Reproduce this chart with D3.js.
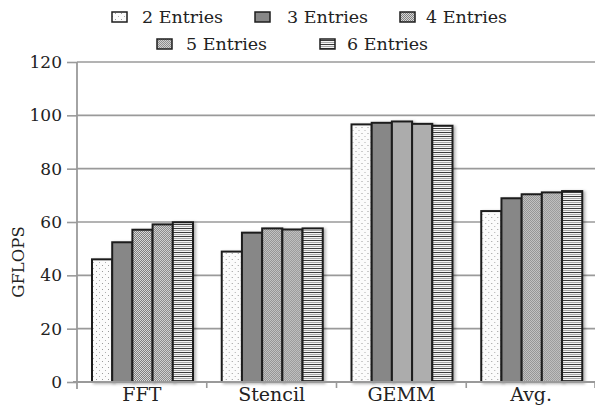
<!DOCTYPE html>
<html>
<head>
<meta charset="utf-8">
<script src="https://cdn.jsdelivr.net/npm/d3@7"></script>
<style>
  html, body { margin: 0; padding: 0; background: #fff; }
  svg { display: block; }
  svg text { font-family: "DejaVu Serif", serif; }
</style>
</head>
<body>
<svg id="chart" width="595" height="405"></svg>
<script>
// ---- data ----
const categories = ["FFT", "Stencil", "GEMM", "Avg."];
const seriesNames = ["2 Entries", "3 Entries", "4 Entries", "5 Entries", "6 Entries"];
const entries2 = [46.0, 48.9, 96.6, 64.1];
const entries3 = [52.4, 56.0, 97.2, 68.9];
const entries4 = [57.1, 57.6, 97.7, 70.4];
const entries5 = [59.1, 57.2, 96.8, 71.1];
const entries6 = [59.9, 57.6, 96.1, 71.6];
const yTicks = [0, 20, 40, 60, 80, 100, 120];
const yLabel = "GFLOPS";

const seriesValues = [entries2, entries3, entries4, entries5, entries6];

(function draw() {
const FONT = "'DejaVu Serif', serif";
const svg = d3.select("#chart");
const mLeft = 77, mRight = 596, mTop = 62, mBottom = 382;

const defs = svg.append("defs");
const p2 = defs.append("pattern").attr("id", "pat0").attr("patternUnits", "userSpaceOnUse")
  .attr("width", 6).attr("height", 6);
p2.append("rect").attr("width", 6).attr("height", 6).attr("fill", "#fbfbfb");
p2.append("rect").attr("x", 1).attr("y", 1).attr("width", 1).attr("height", 1).attr("fill", "#9a9a9a");
p2.append("rect").attr("x", 4).attr("y", 4).attr("width", 1).attr("height", 1).attr("fill", "#b0b0b0");

const p3 = defs.append("pattern").attr("id", "pat1").attr("patternUnits", "userSpaceOnUse")
  .attr("width", 4).attr("height", 4);
p3.append("rect").attr("width", 4).attr("height", 4).attr("fill", "#878787");

const p4 = defs.append("pattern").attr("id", "pat2").attr("patternUnits", "userSpaceOnUse")
  .attr("width", 2).attr("height", 2);
p4.append("rect").attr("width", 2).attr("height", 2).attr("fill", "#d8d8d8");
p4.append("rect").attr("width", 1).attr("height", 1).attr("fill", "#808080");
p4.append("rect").attr("x", 1).attr("y", 1).attr("width", 1).attr("height", 1).attr("fill", "#808080");

const p5 = defs.append("pattern").attr("id", "pat3").attr("patternUnits", "userSpaceOnUse")
  .attr("width", 2).attr("height", 2);
p5.append("rect").attr("width", 2).attr("height", 2).attr("fill", "#d0d0d0");
p5.append("rect").attr("width", 1).attr("height", 1).attr("fill", "#8c8c8c");
p5.append("rect").attr("x", 1).attr("y", 1).attr("width", 1).attr("height", 1).attr("fill", "#8c8c8c");

const p6 = defs.append("pattern").attr("id", "pat4").attr("patternUnits", "userSpaceOnUse")
  .attr("width", 4).attr("height", 4);
p6.append("rect").attr("width", 4).attr("height", 4).attr("fill", "#f4f4f4");
p6.append("rect").attr("y", 0).attr("width", 4).attr("height", 1).attr("fill", "#3a3a3a");
p6.append("rect").attr("y", 2).attr("width", 4).attr("height", 1).attr("fill", "#a8a8a8");

const shadow = defs.append("filter").attr("id", "shadow")
  .attr("x", "-20%").attr("y", "-5%").attr("width", "150%").attr("height", "110%");
shadow.append("feDropShadow").attr("dx", 2).attr("dy", 1).attr("stdDeviation", 1.6)
  .attr("flood-color", "#000").attr("flood-opacity", 0.3);

const y = d3.scaleLinear().domain([0, 120]).range([mBottom, mTop]);
const x0 = d3.scaleBand().domain(categories).range([mLeft, mRight]).paddingInner(0).paddingOuter(0);
const x1 = d3.scaleBand().domain(d3.range(seriesNames.length)).range([15, 116]).padding(0);

const gridColor = "#9a9a9a";

svg.append("g").selectAll("line").data(yTicks.filter(d => d > 0)).join("line")
  .attr("x1", mLeft).attr("x2", mRight)
  .attr("y1", d => y(d)).attr("y2", d => y(d))
  .attr("stroke", gridColor).attr("stroke-width", 1.6);

const yAxis = d3.axisLeft(y).tickValues(yTicks).tickSize(10).tickPadding(5).tickFormat(d3.format("d"));
const yg = svg.append("g").attr("transform", `translate(${mLeft},0)`).call(yAxis)
  .attr("font-family", FONT);
yg.select(".domain").remove();
yg.selectAll(".tick line").attr("stroke", gridColor).attr("stroke-width", 1.6);
yg.selectAll(".tick text").attr("fill", "#222").attr("font-size", 17).style("font-family", FONT);
svg.append("line").attr("x1", mLeft).attr("x2", mLeft).attr("y1", mTop).attr("y2", mBottom + 7)
  .attr("stroke", gridColor).attr("stroke-width", 1.8);

const groups = svg.append("g").selectAll("g").data(categories).join("g")
  .attr("transform", d => `translate(${x0(d)},0)`);
groups.selectAll("rect").data((c, ci) => seriesValues.map((arr, si) => ({ si, v: arr[ci] })))
  .join("rect")
  .attr("x", d => x1(d.si))
  .attr("y", d => y(d.v))
  .attr("width", x1.bandwidth())
  .attr("height", d => y(0) - y(d.v))
  .attr("fill", d => `url(#pat${d.si})`)
  .attr("stroke", "#1e1e1e").attr("stroke-width", 2)
  .attr("filter", "url(#shadow)");

svg.append("line").attr("x1", mLeft - 4).attr("x2", mRight).attr("y1", mBottom).attr("y2", mBottom)
  .attr("stroke", gridColor).attr("stroke-width", 1.8);
const xAxis = d3.axisBottom(x0).tickSize(0).tickPadding(0);
const xg = svg.append("g").attr("transform", `translate(0,${mBottom})`).call(xAxis)
  .attr("font-family", FONT);
xg.select(".domain").remove();
xg.selectAll(".tick text").attr("fill", "#222").attr("font-size", 19).style("font-family", FONT)
  .attr("y", 19).attr("dy", 0);
svg.append("g").selectAll("line").data(categories.slice(1).concat(["__end"])).join("line")
  .attr("x1", d => d === "__end" ? mRight - 1 : x0(d)).attr("x2", d => d === "__end" ? mRight - 1 : x0(d))
  .attr("y1", mBottom).attr("y2", mBottom + 6)
  .attr("stroke", gridColor).attr("stroke-width", 1.6);

svg.append("text").attr("transform", `translate(24,${(mTop + mBottom) / 2 + 40}) rotate(-90)`)
  .attr("text-anchor", "middle").attr("font-size", 16.5).attr("fill", "#222")
  .style("font-family", FONT)
  .text(yLabel);

const legendPos = [
  { sx: 112, tx: 142, sy: 12 },
  { sx: 255, tx: 287, sy: 12 },
  { sx: 400, tx: 426, sy: 12 },
  { sx: 157, tx: 186, sy: 39 },
  { sx: 320, tx: 347, sy: 39 }
];
const lg = svg.append("g").selectAll("g").data(seriesNames).join("g");
lg.append("rect")
  .attr("x", (d, i) => legendPos[i].sx).attr("y", (d, i) => legendPos[i].sy)
  .attr("width", 15).attr("height", 10)
  .attr("fill", (d, i) => `url(#pat${i})`)
  .attr("stroke", "#1e1e1e").attr("stroke-width", 1.5);
lg.append("text")
  .attr("x", (d, i) => legendPos[i].tx).attr("y", (d, i) => legendPos[i].sy + 10.5)
  .attr("font-size", 17.5).attr("fill", "#222")
  .style("font-family", FONT)
  .text(d => d);
})();
</script>
</body>
</html>
